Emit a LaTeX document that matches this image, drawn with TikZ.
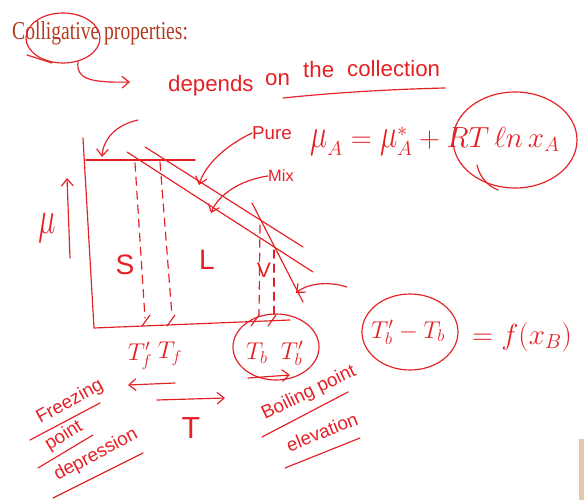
\documentclass[tikz,border=0pt]{standalone}
\usepackage{fontspec}
\setmainfont{Liberation Serif}
\newfontfamily\handfont{Liberation Sans}
\usetikzlibrary{arrows.meta}
\definecolor{ink}{RGB}{228,32,36}
\definecolor{slide}{RGB}{178,58,30}
\definecolor{frame}{RGB}{226,201,169}

\begin{document}
\begin{tikzpicture}[
    x=0.03cm, y=-0.03cm,
    >={Straight Barb[length=6pt,width=10pt]},
    pen/.style={draw=ink, line width=1pt, line cap=round, line join=round},
    dashpen/.style={pen, dash pattern=on 7pt off 5pt},
    hand/.style={text=ink, inner sep=0pt, font=\handfont\fontsize{#1}{#1}\selectfont},
    hand/.default=16
]
\useasboundingbox (0,0) rectangle (584,500);
\fill[frame] (579,439) rectangle (584,500);

% heading and remark
\node[anchor=base west, text=slide, inner sep=0pt,
    font=\fontsize{22}{24}\selectfont] (title) at (12,39)
    {\scalebox{0.76}[1]{Colligative properties:}};
\draw[pen] (63,38) ellipse [x radius=37, y radius=25];
\draw[pen] (27,55) -- (52,63);
\node[hand=19, anchor=base west] (dep) at (168,91) {depends};
\node[hand=19, anchor=base west] (on) at (265,85) {on};
\node[hand=19, anchor=base west] (the) at (303,77) {the};
\node[hand=19, anchor=base west] (coll) at (347,76) {collection};
\coordinate (depTip) at (130,82);
\draw[pen, ->] (78,62) .. controls (76,78) and (88,83) .. (depTip);
\draw[pen] (283,98) .. controls (340,92) and (400,89) .. (445,88);

% chemical potential
\node[hand=26, anchor=base west] (eqn) at (310,147)
    {$\scalebox{1}[1.4]{$\mu$}_A=\scalebox{1}[1.4]{$\mu$}_A^{*}+RT\,\ell n\, x_A$};
\draw[pen] (515,140) ellipse [x radius=62, y radius=48];
\draw[pen] (477,165) .. controls (480,178) and (488,186) .. (498,190);

% mu-T diagram
\draw[pen] (83,138) -- (94,328) -- (290,320);
\draw[pen] (86,160) -- (195,160);
\draw[pen, ->] (70,258) -- (67,178);
\node[hand=30] (mu) at (47,228) {\scalebox{1}[1.6]{$\mu$}};
\coordinate (pureA) at (145,147);
\coordinate (pureB) at (303,247);
\coordinate (mixA) at (127,152);
\coordinate (mixB) at (313,272);
\coordinate (vapA) at (252,203);
\coordinate (vapB) at (303,302);
\draw[pen] (pureA) -- (pureB);
\draw[pen] (mixA) -- (mixB);
\draw[pen] (vapA) -- (vapB);
\draw[dashpen] (135,163) -- (145,318);
\draw[dashpen] (160,162) -- (172,316);
\draw[dashpen] (260,225) -- (259,316);
\draw[dashpen] (274,250) -- (274,315);
\foreach \tx in {146,171,255,272}
    \draw[pen] (\tx-4,326) -- (\tx+4,315);
\node[hand=24] (S) at (125,265) {S};
\node[hand=24] (L) at (207,260) {L};
\node[hand=18] (V) at (264,270) {V};

\node[hand=16] (pure) at (272,133) {Pure};
\node[hand=14] (mix) at (281,176) {Mix};
\coordinate (pureTip) at (199,185);
\coordinate (mixTip) at (211,213);
\draw[pen, ->] (pure.west) .. controls (225,146) and (205,165) .. (pureTip);
\draw[pen, ->] (mix.west) .. controls (240,180) and (218,195) .. (mixTip);
\draw[pen, ->] (138,120) .. controls (115,125) and (103,140) .. (102,157);
\draw[pen, ->] (347,287) .. controls (325,280) and (305,285) .. (296,293);

% temperatures
\node[hand=21] (Tfp) at (140,356) {$T_f'$};
\node[hand=21] (Tf) at (170,354) {$T_f$};
\node[hand=21] (Tb) at (257,353) {$T_b$};
\node[hand=21] (Tbp) at (292,353) {$T_b'$};
\draw[pen] (276,347) ellipse [x radius=43, y radius=33];
\draw[pen, ->] (175,383) -- (128,385);
\draw[pen, ->] (157,400) -- (225,398);
\draw[pen, ->] (248,378) -- (290,375);
\node[hand=26] (T) at (191,428) {T};

\node[hand=21] (diff) at (408,332) {$T_b'-T_b$};
\draw[pen] (410,332) ellipse [x radius=48, y radius=38];
\node[hand=24, anchor=west] (fx) at (472,337) {$=f(x_B)$};

% names of the effects
\node[hand, rotate=29] (frz) at (70,402) {Freezing};
\node[hand, rotate=32] (pnt) at (64,436) {point};
\node[hand, rotate=28] (dpr) at (96,455) {depression};
\draw[pen] (30,440) -- (100,403);
\draw[pen] (38,468) -- (93,435);
\draw[pen] (53,498) -- (143,453);
\node[hand, rotate=26] (boil) at (309,393) {Boiling point};
\node[hand, rotate=22] (elv) at (322,432) {elevation};
\draw[pen] (262,437) -- (348,392);
\draw[pen] (285,468) -- (360,438);
\end{tikzpicture}
\end{document}
